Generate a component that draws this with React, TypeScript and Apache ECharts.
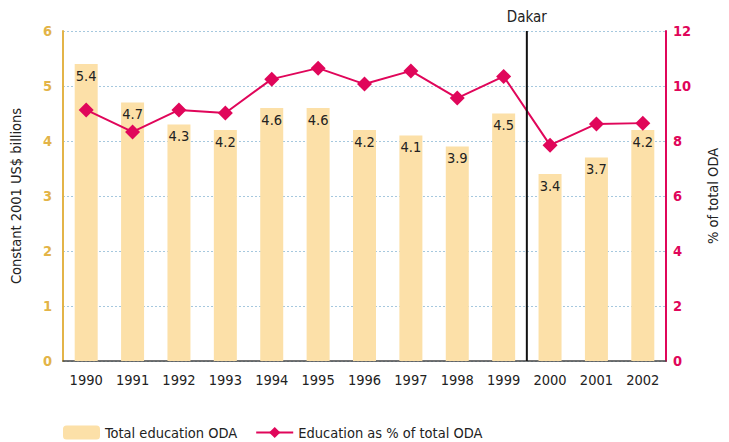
import React, { useEffect, useRef } from "react";
import * as echarts from "echarts";

const years = ["1990","1991","1992","1993","1994","1995","1996","1997","1998","1999","2000","2001","2002"];
const totalODA = [5.4, 4.7, 4.3, 4.2, 4.6, 4.6, 4.2, 4.1, 3.9, 4.5, 3.4, 3.7, 4.2];
const pctODA = [9.13, 8.33, 9.13, 9.02, 10.25, 10.65, 10.07, 10.55, 9.56, 10.35, 7.85, 8.62, 8.65];
const leftTicks = [0, 1, 2, 3, 4, 5, 6];
const rightTicks = [0, 2, 4, 6, 8, 10, 12];

const FONT = "'DejaVu Sans Condensed', 'Liberation Sans Narrow', sans-serif";
const GOLD = "#E3B448";
const RED = "#E0065A";
const BAR = "#FCE0A8";

export default function App() {
  const ref = useRef<HTMLDivElement>(null);
  useEffect(() => {
    document.body.style.margin = "0";
    const chart = echarts.init(ref.current!, null, { renderer: "svg" });
    chart.setOption({
      animation: false,
      textStyle: { fontFamily: FONT },
      grid: { left: 63, right: 63, top: 31, bottom: 81 },
      legend: {
        left: 58,
        top: 420,
        itemWidth: 37,
        itemHeight: 14,
        itemGap: 18,
        textStyle: { fontFamily: FONT, fontSize: 14.5, color: "#222" },
        data: ["Total education ODA", "Education as % of total ODA"],
      },
      xAxis: {
        type: "category",
        data: years,
        axisLine: { lineStyle: { color: "#444", width: 1.5 } },
        axisTick: { show: false },
        axisLabel: { color: "#222", fontSize: 14.5, margin: 11, fontFamily: FONT },
      },
      yAxis: [
        {
          type: "value",
          min: leftTicks[0],
          max: leftTicks[leftTicks.length - 1],
          interval: 1,
          name: "Constant 2001 US$ billions",
          nameLocation: "middle",
          nameGap: 40,
          nameRotate: 90,
          nameTextStyle: { color: "#222", fontSize: 14.5, fontFamily: FONT },
          axisLine: { show: true, lineStyle: { color: GOLD, width: 2 } },
          axisTick: { show: false },
          axisLabel: { color: GOLD, fontWeight: "bold", fontSize: 14.5, margin: 11, fontFamily: FONT },
          splitLine: { show: true, lineStyle: { color: "#A6C8DE", type: [2, 2], width: 1 } },
        },
        {
          type: "value",
          min: rightTicks[0],
          max: rightTicks[rightTicks.length - 1],
          interval: 2,
          name: "% of total ODA",
          nameLocation: "middle",
          nameGap: 39,
          nameRotate: 90,
          nameTextStyle: { color: "#222", fontSize: 14.5, fontFamily: FONT },
          axisLine: { show: true, lineStyle: { color: RED, width: 2 } },
          axisTick: { show: false },
          axisLabel: { color: RED, fontWeight: "bold", fontSize: 14.5, margin: 7, fontFamily: FONT },
          splitLine: { show: false },
        },
      ],
      series: [
        {
          name: "Total education ODA",
          type: "bar",
          data: totalODA,
          barWidth: 23,
          itemStyle: { color: BAR },
          label: {
            show: true,
            position: "insideTop",
            distance: 4,
            color: "#222",
            fontSize: 14.5,
            fontFamily: FONT,
            formatter: (p: any) => p.value.toFixed(1),
          },
        },
        {
          name: "Education as % of total ODA",
          type: "line",
          yAxisIndex: 1,
          data: pctODA,
          symbol: "diamond",
          symbolSize: 15,
          lineStyle: { color: RED, width: 2 },
          itemStyle: { color: RED },
          z: 5,
        },
      ],
    });
    const x1 = chart.convertToPixel({ xAxisIndex: 0 }, "1999") as number;
    const x2 = chart.convertToPixel({ xAxisIndex: 0 }, "2000") as number;
    const yTop = chart.convertToPixel({ yAxisIndex: 0 }, 6) as number;
    const yBot = chart.convertToPixel({ yAxisIndex: 0 }, 0) as number;
    const xm = (x1 + x2) / 2;
    chart.setOption({
      graphic: [
        {
          type: "line",
          shape: { x1: xm, y1: yTop, x2: xm, y2: yBot },
          style: { stroke: "#111", lineWidth: 2 },
          z: 10,
        },
        {
          type: "text",
          x: xm,
          y: yTop - 7,
          style: {
            text: "Dakar",
            fill: "#222",
            font: `15px ${FONT}`,
            align: "center",
            verticalAlign: "bottom",
          },
          z: 10,
        },
      ],
    });
    return () => chart.dispose();
  }, []);
  return <div ref={ref} style={{ width: 729, height: 442 }} />;
}
